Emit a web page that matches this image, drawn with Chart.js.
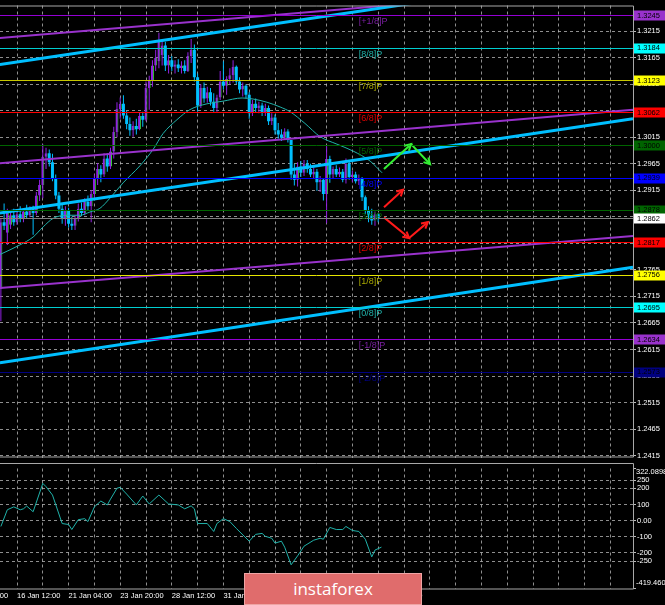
<!DOCTYPE html>
<html>
<head>
<meta charset="utf-8">
<script src="https://cdn.jsdelivr.net/npm/chart.js@4.4.1/dist/chart.umd.min.js"></script>
<style>
  html, body { margin: 0; padding: 0; background: #000; }
  #wrap { position: relative; width: 665px; height: 605px; background: #000; overflow: hidden; }
  #main { position: absolute; left: 0; top: 0; }
  #osc { position: absolute; left: 0; top: 463px; }
  #logo {
    position: absolute; left: 244px; top: 573px; width: 178px; height: 32px; box-sizing: border-box;
    background: #e06c6c; border: 1px solid #eea4a4; color: #fff;
    font: 17px "Open Sans", sans-serif; text-align: center; line-height: 30px;
  }
</style>
</head>
<body>
<div id="wrap">
  <canvas id="main" width="665" height="463"></canvas>
  <canvas id="osc" width="665" height="142"></canvas>
  <div id="logo">instaforex</div>
</div>
<script>
// H4 candles, bar numbers counted from the "16 Jan 12:00" gridline
const FIRST_BAR = -5;
const opens = [
  1.2729, 1.2855, 1.2835, 1.2850, 1.2868, 1.2855, 1.2870, 1.2862, 1.2875, 1.2868,
  1.2880, 1.2872, 1.2905, 1.2925, 1.2978, 1.2985, 1.2968, 1.2938, 1.2905, 1.2880,
  1.2862, 1.2876, 1.2852, 1.2848, 1.2862, 1.2880, 1.2872, 1.2893, 1.2885, 1.2908,
  1.2938, 1.2955, 1.2945, 1.2975, 1.2960, 1.2988, 1.3025, 1.3068, 1.3078, 1.3056,
  1.3040, 1.3028, 1.3036, 1.3030, 1.3055, 1.3048, 1.3108, 1.3122, 1.3150, 1.3158,
  1.3170, 1.3188, 1.3150, 1.3160, 1.3148, 1.3152, 1.3145, 1.3150, 1.3140, 1.3168,
  1.3180, 1.3128, 1.3075, 1.3108, 1.3088, 1.3100, 1.3082, 1.3070, 1.3090, 1.3120,
  1.3112, 1.3125, 1.3132, 1.3148, 1.3120, 1.3105, 1.3112, 1.3095, 1.3060, 1.3078,
  1.3070, 1.3075, 1.3062, 1.3070, 1.3045, 1.3052, 1.3028, 1.3020, 1.3014, 1.3026,
  1.3010, 1.2945, 1.2935, 1.2960, 1.2948, 1.2965, 1.2955, 1.2945, 1.2950, 1.2930,
  1.2935, 1.2908, 1.2974, 1.2945, 1.2955, 1.2945, 1.2950, 1.2935, 1.2965, 1.2940,
  1.2945, 1.2932, 1.2938, 1.2902, 1.2876, 1.2868, 1.2858, 1.2870
];
const highs = [
  1.2862, 1.2890, 1.2880, 1.2878, 1.2880, 1.2875, 1.2885, 1.2880, 1.2888, 1.2885,
  1.2886, 1.2912, 1.2935, 1.3002, 1.2995, 1.2992, 1.2984, 1.2945, 1.2912, 1.2890,
  1.2885, 1.2882, 1.2865, 1.2868, 1.2890, 1.2892, 1.2900, 1.2905, 1.2915, 1.2945,
  1.2966, 1.2962, 1.2985, 1.2985, 1.2995, 1.3035, 1.3081, 1.3090, 1.3094, 1.3065,
  1.3052, 1.3045, 1.3050, 1.3062, 1.3063, 1.3120, 1.3131, 1.3160, 1.3180, 1.3212,
  1.3198, 1.3195, 1.3170, 1.3168, 1.3160, 1.3162, 1.3158, 1.3160, 1.3175, 1.3200,
  1.3190, 1.3135, 1.3115, 1.3118, 1.3110, 1.3108, 1.3098, 1.3095, 1.3140, 1.3158,
  1.3130, 1.3145, 1.3160, 1.3150, 1.3128, 1.3118, 1.3115, 1.3100, 1.3085, 1.3088,
  1.3082, 1.3080, 1.3078, 1.3075, 1.3060, 1.3058, 1.3042, 1.3030, 1.3032, 1.3030,
  1.3010, 1.2965, 1.2968, 1.2970, 1.2972, 1.2972, 1.2965, 1.2960, 1.2955, 1.2942,
  1.2938, 1.2998, 1.2980, 1.2960, 1.2962, 1.2958, 1.2955, 1.2975, 1.2970, 1.2952,
  1.2950, 1.2945, 1.2940, 1.2905, 1.2885, 1.2880, 1.2875, 1.2872
];
const lows = [
  1.2668, 1.2840, 1.2812, 1.2842, 1.2848, 1.2850, 1.2855, 1.2855, 1.2862, 1.2864,
  1.2831, 1.2868, 1.2895, 1.2900, 1.2955, 1.2960, 1.2932, 1.2898, 1.2872, 1.2852,
  1.2848, 1.2845, 1.2840, 1.2840, 1.2856, 1.2866, 1.2868, 1.2878, 1.2855, 1.2900,
  1.2925, 1.2930, 1.2940, 1.2950, 1.2955, 1.2975, 1.3015, 1.3050, 1.3050, 1.3030,
  1.3018, 1.3016, 1.3020, 1.3028, 1.3035, 1.3045, 1.3067, 1.3110, 1.3140, 1.3145,
  1.3150, 1.3140, 1.3135, 1.3140, 1.3135, 1.3138, 1.3135, 1.3135, 1.3138, 1.3155,
  1.3120, 1.3063, 1.3070, 1.3080, 1.3080, 1.3075, 1.3063, 1.3063, 1.3085, 1.3105,
  1.3095, 1.3115, 1.3118, 1.3115, 1.3098, 1.3092, 1.3088, 1.3050, 1.3055, 1.3062,
  1.3060, 1.3055, 1.3055, 1.3038, 1.3038, 1.3020, 1.3012, 1.3008, 1.3010, 1.3005,
  1.2935, 1.2924, 1.2922, 1.2940, 1.2942, 1.2948, 1.2940, 1.2938, 1.2914, 1.2912,
  1.2896, 1.2853, 1.2929, 1.2938, 1.2940, 1.2940, 1.2930, 1.2928, 1.2935, 1.2930,
  1.2928, 1.2925, 1.2895, 1.2870, 1.2855, 1.2850, 1.2848, 1.2855
];
const closes = [
  1.2855, 1.2848, 1.2872, 1.2868, 1.2855, 1.2870, 1.2862, 1.2875, 1.2868, 1.2880,
  1.2872, 1.2905, 1.2925, 1.2978, 1.2985, 1.2968, 1.2938, 1.2905, 1.2880, 1.2862,
  1.2876, 1.2852, 1.2848, 1.2862, 1.2880, 1.2872, 1.2893, 1.2885, 1.2908, 1.2938,
  1.2955, 1.2945, 1.2975, 1.2960, 1.2988, 1.3025, 1.3068, 1.3078, 1.3056, 1.3040,
  1.3028, 1.3036, 1.3030, 1.3055, 1.3048, 1.3108, 1.3122, 1.3150, 1.3165, 1.3198,
  1.3188, 1.3150, 1.3160, 1.3148, 1.3152, 1.3145, 1.3150, 1.3140, 1.3168, 1.3180,
  1.3128, 1.3075, 1.3108, 1.3088, 1.3100, 1.3082, 1.3070, 1.3090, 1.3120, 1.3112,
  1.3125, 1.3132, 1.3148, 1.3120, 1.3105, 1.3112, 1.3095, 1.3060, 1.3078, 1.3070,
  1.3075, 1.3062, 1.3070, 1.3045, 1.3052, 1.3028, 1.3020, 1.3014, 1.3026, 1.3010,
  1.2945, 1.2935, 1.2960, 1.2948, 1.2965, 1.2955, 1.2945, 1.2950, 1.2930, 1.2935,
  1.2908, 1.2974, 1.2945, 1.2955, 1.2945, 1.2950, 1.2935, 1.2965, 1.2940, 1.2945,
  1.2932, 1.2938, 1.2902, 1.2876, 1.2868, 1.2858, 1.2870, 1.2862
];

// moving average
const maBars = [-5.3, 0.9, 5, 8.1, 11.2, 15.5, 19.5, 22.6, 25.7, 28.8, 32.9, 38.1, 42.2, 45.3, 49.6,
  53.6, 58.9, 63.9, 69.8, 73.2, 77.5, 81.6, 84.7, 89.3, 94, 99.2, 104.2, 109.5, 113.2];
const maValues = [1.2794, 1.2812, 1.2827, 1.2846, 1.2862, 1.2868, 1.2868, 1.2874, 1.2881, 1.2900,
  1.2929, 1.2961, 1.2992, 1.3022, 1.3048, 1.3067, 1.3078, 1.3083, 1.3089, 1.3087, 1.3081,
  1.3072, 1.3063, 1.3041, 1.3016, 1.3002, 1.2989, 1.2970, 1.2948];

// Murrey levels
const levelValues = [1.3245, 1.3184, 1.3123, 1.3062, 1.3000, 1.2939, 1.2878, 1.2817, 1.2756, 1.2695, 1.2634, 1.2573];
const levelNames = ['[+1/8]P', '[8/8]P', '[7/8]P', '[6/8]P', '[5/8]P', '[4/8]P', '[3/8]P', '[2/8]P', '[1/8]P', '[0/8]P', '[-1/8]P', '[-2/8]P'];
const currentPrice = 1.2862;
const LABEL_BAR = 106;

// channel lines: [bar, price] pairs
const blueLines = [
  [[-5.3, 1.3152], [191, 1.3329]],
  [[-5.3, 1.2872], [191, 1.3050]],
  [[-5.3, 1.2590], [191, 1.2770]]
];
const purpleLines = [
  [[-5.3, 1.3202], [191, 1.3302]],
  [[-5.3, 1.2966], [191, 1.3067]],
  [[-5.3, 1.2731], [191, 1.2829]]
];

// forecast arrows
const greenArrowBars = [113.8, 122.2, 128.1];
const greenArrowPrices = [1.2955, 1.3002, 1.2964];
const redArrow1Bars = [113.8, 119.7];
const redArrow1Prices = [1.2883, 1.2916];
const redArrow2Bars = [113.8, 121.6, 127.4];
const redArrow2Prices = [1.2864, 1.2825, 1.2855];

// oscillator
const cciBars = [-5, -3, -1, 1, 2, 3, 5, 8, 9, 11, 14, 16, 17, 19, 21, 22, 24, 26, 28, 29, 31, 32, 34,
  37, 39, 41, 44, 47, 50, 52, 54, 55, 56, 59, 61, 62, 64, 66, 68, 72, 74, 76, 77, 79, 80, 82, 83,
  85, 87, 89, 92, 94, 95, 97, 99, 101, 102, 104, 106, 108, 110, 111, 113];
const cciValues = [-36, 67, 85, 67, 73, 90, 55, 230, 210, 158, -18, -24, -55, 6, 12, -6, 85, 121, 97, 133, 200, 206, 164,
  97, 152, 103, 158, 103, 97, 73, 91, 73, -18, -18, -67, -18, 12, -6, -48, -127, -85, -79, -97, -109, -139, -127, -164,
  -273, -218, -158, -121, -109, -115, -42, -55, -55, -36, -61, -67, -115, -224, -182, -164];

// axes
const priceTicks = [1.3215, 1.3165, 1.3115, 1.3065, 1.3015, 1.2965, 1.2915, 1.2865, 1.2815,
  1.2765, 1.2715, 1.2665, 1.2615, 1.2565, 1.2515, 1.2465, 1.2415];
const cciTicks = [322.0898, 250, 200, 100, 0, -100, -200, -250, -419.46];
const timeLabels = ['11 Jan 20:00', '16 Jan 12:00', '21 Jan 04:00', '23 Jan 20:00', '28 Jan 12:00',
  '31 Jan 04:00', '4 Feb 20:00', '7 Feb 12:00', '12 Feb 04:00'];
const timeLabelBars = [-16, 0, 16, 32, 48, 64, 80, 96, 112];

// ---- styles ----
const PURPLE = '#9121e0', BLUE = '#00bfff', GREEN = '#33cc33';
const GRID = 'rgba(190,190,190,0.75)';
const FRAME = '#a8a8a8';
const levelLineColors = ['#9400d3', '#00ced1', '#c8c800', '#ff0000', '#006400', '#0000ff', '#006400', '#ff0000', '#e6e600', '#00ced1', '#9400d3', '#000080'];
const levelBoxColors = ['#9932cc', '#00ffff', '#ffff00', '#ff0000', '#006400', '#0000ff', '#006400', '#ff0000', '#ffff00', '#00ffff', '#9932cc', '#000080'];
const levelTextColors = ['#7b1fa2', '#20b2aa', '#a8a800', '#e00000', '#006400', '#0000ff', '#006400', '#e00000', '#a8a800', '#20b2aa', '#7b1fa2', '#000080'];

const X_MIN = -17 / 3.225, X_MAX = 616 / 3.225;
const Y_MIN = 1.24114, Y_MAX = 1.32633;
const gridBars = [];
for (let b = -16; b <= 184; b += 8) gridBars.push(b);

Chart.defaults.font.family = '"Liberation Sans", Arial, sans-serif';
Chart.defaults.font.size = 7.5;

const bars = opens.map((o, i) => i + FIRST_BAR);
const isUp = i => i !== undefined && closes[i] >= opens[i];

function pts(xs, ys) { return xs.map((x, i) => ({ x: x, y: ys[i] })); }

// keep label widths from pushing the plot area around
function fixX(h) {
  return s => { s.height = h; s.paddingLeft = 0; s.paddingRight = 0; };
}

const lineSets = [];
blueLines.forEach(l => lineSets.push({
  type: 'line', data: l.map(p => ({ x: p[0], y: p[1] })), borderColor: BLUE, borderWidth: 3,
  pointRadius: 0, order: 2
}));
purpleLines.forEach(l => lineSets.push({
  type: 'line', data: l.map(p => ({ x: p[0], y: p[1] })), borderColor: '#9932cc', borderWidth: 2,
  pointRadius: 0, order: 3
}));
const arrowSets = [
  { type: 'line', data: pts(greenArrowBars, greenArrowPrices), borderColor: '#33ee33', borderWidth: 2, pointRadius: 0, order: 1, arrow: true },
  { type: 'line', data: pts(redArrow1Bars, redArrow1Prices), borderColor: '#ff1a1a', borderWidth: 2, pointRadius: 0, order: 1, arrow: true },
  { type: 'line', data: pts(redArrow2Bars, redArrow2Prices), borderColor: '#ff1a1a', borderWidth: 2, pointRadius: 0, order: 1, arrow: true }
];

const levelsPlugin = {
  id: 'levels',
  afterDatasetsDraw(chart) {
    const { ctx, chartArea: a, scales: { y } } = chart;
    ctx.save();
    ctx.lineWidth = 1;
    levelValues.forEach((v, i) => {
      const py = Math.round(y.getPixelForValue(v)) + 0.5;
      ctx.strokeStyle = levelLineColors[i];
      ctx.beginPath(); ctx.moveTo(a.left, py); ctx.lineTo(a.right, py); ctx.stroke();
    });
    const cp = Math.round(y.getPixelForValue(currentPrice)) + 0.5;
    ctx.strokeStyle = '#7f7f7f';
    ctx.beginPath(); ctx.moveTo(a.left, cp); ctx.lineTo(a.right, cp); ctx.stroke();

    // arrow heads
    chart.data.datasets.forEach((ds, di) => {
      if (!ds.arrow) return;
      const meta = chart.getDatasetMeta(di);
      ctx.strokeStyle = ds.borderColor; ctx.lineWidth = 2;
      for (let k = 1; k < meta.data.length; k++) {
        const p0 = meta.data[k - 1], p1 = meta.data[k];
        const ang = Math.atan2(p1.y - p0.y, p1.x - p0.x);
        ctx.beginPath();
        ctx.moveTo(p1.x - 7 * Math.cos(ang - 0.5), p1.y - 7 * Math.sin(ang - 0.5));
        ctx.lineTo(p1.x, p1.y);
        ctx.lineTo(p1.x - 7 * Math.cos(ang + 0.5), p1.y - 7 * Math.sin(ang + 0.5));
        ctx.stroke();
      }
    });
    ctx.restore();
  },
  afterDraw(chart) {
    const { ctx, chartArea: a, scales: { x, y } } = chart;
    ctx.save();
    // level names
    ctx.font = '9px "Liberation Sans", Arial, sans-serif';
    ctx.textBaseline = 'top';
    ctx.textAlign = 'left';
    const lx = x.getPixelForValue(LABEL_BAR);
    levelValues.forEach((v, i) => {
      ctx.fillStyle = levelTextColors[i];
      ctx.fillText(levelNames[i], lx, y.getPixelForValue(v) + 2);
    });
    // frame
    ctx.strokeStyle = FRAME; ctx.lineWidth = 1;
    ctx.beginPath();
    ctx.moveTo(0, a.top + 0.5); ctx.lineTo(a.right + 0.5, a.top + 0.5);
    ctx.lineTo(a.right + 0.5, a.bottom - 0.5); ctx.lineTo(0, a.bottom - 0.5);
    ctx.stroke();
    // price boxes on the axis
    ctx.font = '7.5px "Liberation Sans", Arial, sans-serif';
    ctx.textBaseline = 'middle';
    const box = (v, bg, fg) => {
      const py = y.getPixelForValue(v);
      ctx.fillStyle = bg;
      ctx.fillRect(a.right + 1, Math.round(py) - 4.5, 32, 10);
      ctx.fillStyle = fg;
      ctx.fillText(v.toFixed(4), a.right + 4, py + 0.5);
    };
    levelValues.forEach((v, i) => box(v, levelBoxColors[i], '#000'));
    box(currentPrice, '#ffffff', '#000');
    ctx.restore();
  }
};

new Chart(document.getElementById('main'), {
  type: 'bar',
  data: {
    datasets: [
      {
        label: 'wick', data: bars.map((b, i) => ({ x: b, y: [lows[i], highs[i]] })),
        backgroundColor: c => isUp(c.dataIndex) ? PURPLE : BLUE,
        barThickness: 1, grouped: false, borderWidth: 0, inflateAmount: 0, order: 10
      },
      {
        label: 'body', data: bars.map((b, i) => ({ x: b, y: [opens[i], closes[i]] })),
        backgroundColor: c => isUp(c.dataIndex) ? PURPLE : BLUE,
        borderColor: GREEN,
        borderWidth: c => isUp(c.dataIndex) ? { left: 0, right: 1, top: 0, bottom: 0 } : 0,
        borderSkipped: false, barThickness: 3, grouped: false, inflateAmount: 0, minBarLength: 1, order: 9
      },
      {
        type: 'line', label: 'MA', data: pts(maBars, maValues), borderColor: '#20b2aa', borderWidth: 1,
        pointRadius: 0, cubicInterpolationMode: 'monotone', order: 5
      },
      ...lineSets,
      ...arrowSets
    ]
  },
  options: {
    responsive: false, animation: false, events: [],
    layout: { padding: { top: 2, bottom: 2, left: 0, right: 0 } },
    plugins: { legend: { display: false }, tooltip: { enabled: false } },
    scales: {
      x: {
        type: 'linear', min: X_MIN, max: X_MAX, offset: false,
        grid: { color: GRID, drawTicks: false, offset: false },
        border: { display: false, dash: [3, 3] },
        ticks: { display: false },
        afterBuildTicks: s => { s.ticks = gridBars.map(v => ({ value: v })); },
        afterFit: fixX(0)
      },
      y: {
        position: 'right', min: Y_MIN, max: Y_MAX,
        grid: { color: GRID, drawTicks: true, tickLength: 3, tickColor: '#bbbbbb' },
        border: { display: false, dash: [3, 3] },
        ticks: { color: '#ffffff', padding: 1, autoSkip: false, callback: v => Number(v).toFixed(4) },
        afterBuildTicks: s => { s.ticks = priceTicks.map(v => ({ value: v })); },
        afterFit: s => { s.width = 32; }
      }
    }
  },
  plugins: [levelsPlugin]
});

const oscPlugin = {
  id: 'oscFrame',
  afterDraw(chart) {
    const { ctx, chartArea: a } = chart;
    ctx.save();
    ctx.strokeStyle = FRAME; ctx.lineWidth = 1;
    ctx.beginPath();
    ctx.moveTo(0, 0.5); ctx.lineTo(a.right + 0.5, 0.5);
    ctx.lineTo(a.right + 0.5, a.bottom + 0.5); ctx.lineTo(0, a.bottom + 0.5);
    ctx.stroke();
    ctx.fillStyle = '#ffffff';
    ctx.font = '7.5px "Liberation Sans", Arial, sans-serif';
    ctx.textBaseline = 'middle';
    ctx.fillText('322.0898', a.right + 3, a.top + 3.5);
    ctx.fillText('-419.460', a.right + 3, a.bottom - 5.5);
    ctx.restore();
  }
};

const labelAt = v => {
  const k = timeLabelBars.indexOf(v);
  return k >= 0 ? timeLabels[k] : '';
};

new Chart(document.getElementById('osc'), {
  type: 'line',
  data: {
    datasets: [{
      label: 'CCI', data: pts(cciBars, cciValues), borderColor: '#20b2aa', borderWidth: 1,
      pointRadius: 0, tension: 0
    }]
  },
  options: {
    responsive: false, animation: false, events: [],
    layout: { padding: { top: 2.5, bottom: 0, left: 0, right: 0 } },
    plugins: { legend: { display: false }, tooltip: { enabled: false } },
    scales: {
      x: {
        type: 'linear', min: X_MIN, max: X_MAX, offset: false,
        grid: { color: GRID, drawTicks: false, offset: false },
        border: { display: false, dash: [3, 3] },
        ticks: { color: '#ffffff', align: 'start', maxRotation: 0, autoSkip: false, padding: 3, callback: v => labelAt(v) },
        afterBuildTicks: s => { s.ticks = gridBars.map(v => ({ value: v })); },
        afterFit: fixX(16.5)
      },
      y: {
        position: 'right', min: -419.46, max: 322.0898,
        grid: {
          color: c => (c.tick && (c.tick.value === 322.0898 || c.tick.value === -419.46)) ? 'rgba(0,0,0,0)' : GRID,
          drawTicks: true, tickLength: 3, tickColor: '#bbbbbb'
        },
        border: { display: false, dash: [3, 3] },
        ticks: {
          color: '#ffffff', padding: 1, autoSkip: false,
          callback: v => (v === 322.0898 || v === -419.46) ? '' : (v === 0 ? '0.00' : String(v))
        },
        afterBuildTicks: s => { s.ticks = cciTicks.map(v => ({ value: v })); },
        afterFit: s => { s.width = 32; }
      }
    }
  },
  plugins: [oscPlugin]
});
</script>
</body>
</html>
